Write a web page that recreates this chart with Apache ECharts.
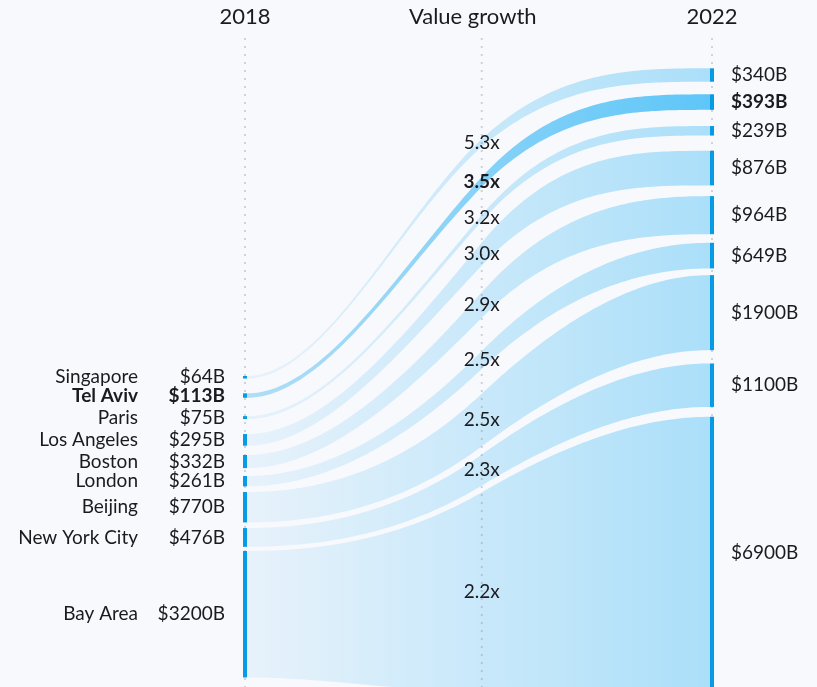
<!DOCTYPE html>
<html>
<head>
<meta charset="utf-8">
<script src="https://cdn.jsdelivr.net/npm/echarts@6/dist/echarts.min.js"></script>
<style>
  html, body { margin: 0; padding: 0; background: #f8f9fd; }
  #chart { width: 817px; height: 687px; }
</style>
</head>
<body>
<div id="chart"></div>
<script type="text/javascript">
    // city values, $B
    var cities = ['Singapore', 'Tel Aviv', 'Paris', 'Los Angeles', 'Boston', 'London', 'Beijing', 'New York City', 'Bay Area'];
    var value2018 = [64, 113, 75, 295, 332, 261, 770, 476, 3200];
    var value2022 = [340, 393, 239, 876, 964, 649, 1900, 1100, 6900];
    var growth = ['5.3x', '3.5x', '3.2x', '3.0x', '2.9x', '2.5x', '2.5x', '2.3x', '2.2x'];
    var years = ['2018', '2022'];
    var middleTitle = 'Value growth';
    var highlight = 'Tel Aviv';

    // layout (pixels)
    var pxPerB = 0.0395;
    var leftTopPx = 376, rightTopPx = 68.3;
    var leftGapPx = [14.8, 18.3, 15, 9.3, 7.9, 5.7, 5.6, 4.2];
    var rightGapPx = [12.6, 16.2, 15.3, 10.7, 8.6, 6.7, 13.3, 9.9];
    // where each band crosses the "Value growth" line (centre, px)
    var midCenterPx = [143, 182, 218, 254, 305, 360, 420, 470, 592];
    var midU = 0.507;
    var FONT = 'Lato, "Noto Sans", sans-serif';
    var TEXT = '#1b1b1f';
    var BAR = '#089be5';

    function stack(values, topPx, gaps) {
        var out = [], y = topPx / pxPerB;
        for (var i = 0; i < values.length; i++) {
            out.push([y, y + values[i]]);
            y += values[i] + (gaps[i] || 0) / pxPerB;
        }
        return out;
    }
    var left = stack(value2018, leftTopPx, leftGapPx);
    var right = stack(value2022, rightTopPx, rightGapPx);
    var mid = value2018.map(function (v, i) {
        var half = (v + value2022[i]) / 4;
        var c = midCenterPx[i] / pxPerB;
        return [c - half, c + half];
    });

    // cubic hermite through 3 points, flat at both ends
    function edge(x0, y0, xm, ym, x1, y1) {
        var h1 = xm - x0, h2 = x1 - xm;
        var d1 = (ym - y0) / h1, d2 = (y1 - ym) / h2;
        var m = 0;
        if (d1 * d2 > 0) {
            m = 2 * (y1 - y0) / (x1 - x0);
            var lim = 3 * Math.min(Math.abs(d1), Math.abs(d2));
            if (Math.abs(m) > lim) m = m > 0 ? lim : -lim;
        }
        function seg(xa, ya, sa, xb, yb, sb, x) {
            var h = xb - xa, t = (x - xa) / h, t2 = t * t, t3 = t2 * t;
            return (2 * t3 - 3 * t2 + 1) * ya + (t3 - 2 * t2 + t) * h * sa +
                (-2 * t3 + 3 * t2) * yb + (t3 - t2) * h * sb;
        }
        return function (x) {
            return x <= xm ? seg(x0, y0, 0, xm, ym, m, x) : seg(xm, ym, m, x1, y1, 0, x);
        };
    }

    function bandColor(i, x0, x1) {
        var hi = cities[i] === highlight;
        return new echarts.graphic.LinearGradient(x0, 0, x1, 0, [
            {offset: 0, color: hi ? '#b0def6' : '#e7f2fb'},
            {offset: 1, color: hi ? '#5ec6f8' : '#abdff9'}
        ], true);
    }

    function renderBand(params, api) {
        var i = api.value(0);
        var a0 = api.coord([0, left[i][0]]), a1 = api.coord([0, left[i][1]]);
        var m0 = api.coord([midU, mid[i][0]]), m1 = api.coord([midU, mid[i][1]]);
        var b0 = api.coord([1, right[i][0]]), b1 = api.coord([1, right[i][1]]);
        var xa = a0[0] + 2, xb = b0[0] - 2, xm = m0[0];
        var fTop = edge(xa, a0[1], xm, m0[1], xb, b0[1]);
        var fBot = edge(xa, a1[1], xm, m1[1], xb, b1[1]);
        var top = [], bot = [];
        for (var k = 0; k <= 120; k++) {
            var x = xa + (xb - xa) * k / 120;
            top.push([x, fTop(x)]);
            bot.push([x, fBot(x)]);
        }
        return {
            type: 'polygon',
            shape: {points: top.concat(bot.reverse())},
            style: {fill: bandColor(i, xa, xb)}
        };
    }

    function txt(text, x, y, align, bold, size) {
        return {
            type: 'text',
            style: {
                text: text, x: x, y: y, textAlign: align, textVerticalAlign: 'middle',
                fill: TEXT, fontFamily: FONT, fontSize: size || 19, fontWeight: bold ? 'bold' : 'normal'
            }
        };
    }

    function renderGuides(params, api) {
        var xs = [api.coord([0, 0])[0], api.coord([midU, 0])[0], api.coord([1, 0])[0]];
        var children = [];
        xs.forEach(function (x) {
            children.push({
                type: 'line',
                shape: {x1: x, y1: 38, x2: x, y2: 687},
                style: {stroke: 'rgba(120,128,142,0.32)', lineWidth: 2, lineDash: [2, 6]}
            });
        });
        children.push(txt(years[0], xs[0], 17, 'center', false, 22));
        children.push(txt(middleTitle, xs[1] - 9, 17, 'center', false, 22));
        children.push(txt(years[1], xs[2], 17, 'center', false, 22));
        return {type: 'group', children: children};
    }

    function renderBars(params, api) {
        var i = api.value(0);
        var hi = cities[i] === highlight;
        var a0 = api.coord([0, left[i][0]]), a1 = api.coord([0, left[i][1]]);
        var b0 = api.coord([1, right[i][0]]), b1 = api.coord([1, right[i][1]]);
        var m0 = api.coord([midU, mid[i][0]]), m1 = api.coord([midU, mid[i][1]]);
        var ly = (a0[1] + a1[1]) / 2, ry = (b0[1] + b1[1]) / 2, gy = (m0[1] + m1[1]) / 2;
        return {
            type: 'group',
            children: [
                {type: 'rect', shape: {x: a0[0] - 2, y: a0[1], width: 4, height: a1[1] - a0[1]}, style: {fill: BAR}},
                {type: 'rect', shape: {x: b0[0] - 2, y: b0[1], width: 4, height: b1[1] - b0[1]}, style: {fill: BAR}},
                txt(cities[i], a0[0] - 107, ly, 'right', hi),
                txt('$' + value2018[i] + 'B', a0[0] - 20, ly, 'right', hi),
                txt('$' + value2022[i] + 'B', b0[0] + 19, ry, 'left', hi),
                txt(growth[i], m0[0], gy, 'center', hi)
            ]
        };
    }

    var chart = echarts.init(document.getElementById('chart'));
    var items = cities.map(function (c, i) { return [i]; });
    chart.setOption({
        backgroundColor: '#f8f9fd',
        animation: false,
        grid: {left: 245, right: 105, top: 0, bottom: 0},
        xAxis: {type: 'value', min: 0, max: 1, show: false},
        yAxis: {type: 'value', min: 0, max: 687 / pxPerB, inverse: true, show: false},
        series: [
            {type: 'custom', renderItem: renderBand, data: items, z: 1, clip: false, silent: true},
            {type: 'custom', renderItem: renderGuides, data: [[0]], z: 2, clip: false, silent: true},
            {type: 'custom', renderItem: renderBars, data: items, z: 3, clip: false, silent: true}
        ]
    });
</script>
</body>
</html>
